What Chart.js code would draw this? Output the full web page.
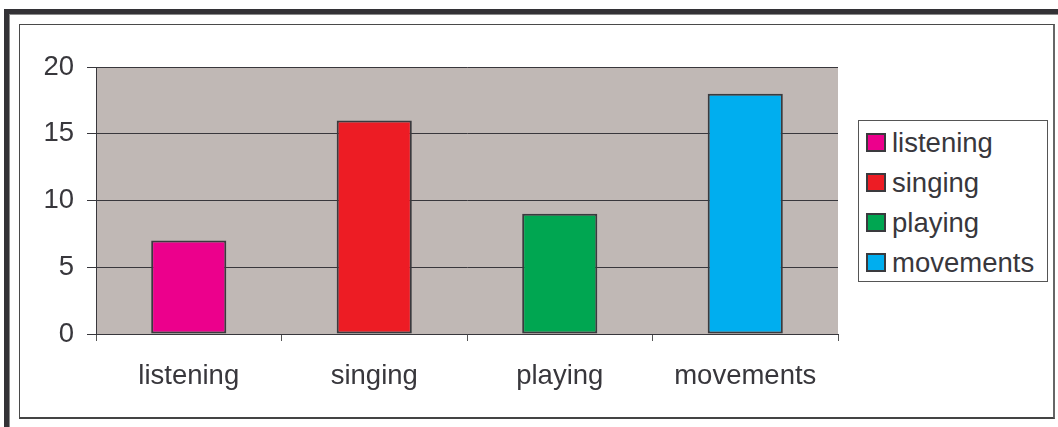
<!DOCTYPE html>
<html>
<head>
<meta charset="utf-8">
<script src="https://cdn.jsdelivr.net/npm/chart.js@4/dist/chart.umd.min.js"></script>
<style>
  html, body { margin: 0; padding: 0; background: #fff; }
  body { width: 1058px; height: 427px; position: relative; overflow: hidden;
         font-family: "Liberation Sans", Arial, sans-serif; }
  /* dark outer frame (top + left only, rest runs off the page) */
  #outer { position: absolute; left: 4px; top: 9px; width: 1070px; height: 440px;
           border-top: 5px solid #333236; border-left: 5px solid #333236;
           box-shadow: inset 1px 1px 0 #8a8a8a; }
  /* thin inner frame */
  #inner { position: absolute; left: 19px; top: 24px; width: 1033px; height: 392px;
           border: 1px solid #4a4a4a; border-right: 2px solid #666; border-bottom: 2px solid #444; }
  #chart { position: absolute; left: 0; top: 0; }
  #legend { position: absolute; left: 858px; top: 120px; width: 190px; height: 162px;
            border: 1px solid #555; background: #fff; box-sizing: border-box;
            padding: 8px 0 0 7px; }
  .item { height: 40px; display: flex; align-items: flex-start; font-size: 27.5px;
          color: #38373c; line-height: 27px; }
  .swatch { width: 20px; height: 19px; border: 2px solid #3a3a3e; margin: 4px 6px 0 0;
            box-sizing: border-box; flex: none; }
</style>
</head>
<body>
<div id="outer"></div>
<div id="inner"></div>
<canvas id="chart" width="1058" height="427"></canvas>
<div id="legend"></div>
<script>
// activities and how many times each was observed
const categories = ['listening', 'singing', 'playing', 'movements'];
const counts = [7, 16, 9, 18];
const barColors = ['#ec008c', '#ed1c24', '#00a651', '#00aeef'];
const yTicks = [0, 5, 10, 15, 20];

const INK = '#38373c';
const PLOT_BG = '#c0b8b5';

// grey plot area behind the bars
const plotBackground = {
    id: 'plotBackground',
    beforeDraw(chart) {
        const { ctx, chartArea: a } = chart;
        ctx.save();
        ctx.fillStyle = PLOT_BG;
        ctx.fillRect(a.left, a.top, a.right - a.left, a.bottom - a.top);
        ctx.restore();
    },
};

new Chart(document.getElementById('chart'), {
    type: 'bar',
    data: {
        labels: categories,
        datasets: [{
            data: counts,
            backgroundColor: barColors,
            borderColor: '#3a3a3e',
            borderWidth: 2,
            borderSkipped: false,
            categoryPercentage: 1,
            barPercentage: 0.405,
        }],
    },
    options: {
        responsive: false,
        animation: false,
        layout: { padding: { top: 67, right: 220, bottom: 0, left: 0 } },
        plugins: { legend: { display: false }, tooltip: { enabled: false } },
        scales: {
            x: {
                offset: true,
                grid: { offset: true, drawOnChartArea: false, drawTicks: true, tickLength: 7, color: '#555' },
                border: { display: true, color: '#38373c', width: 1 },
                ticks: { color: INK, padding: 19, font: { family: 'Liberation Sans', size: 27.5 } },
                afterFit(scale) { scale.height = 93; },
            },
            y: {
                min: 0,
                max: 20,
                afterBuildTicks(scale) { scale.ticks = yTicks.map(v => ({ value: v })); },
                grid: { color: '#38373c', lineWidth: 1, tickLength: 9 },
                border: { display: true, color: '#38373c', width: 1 },
                ticks: { color: INK, padding: 13, font: { family: 'Liberation Sans', size: 27.5 } },
                afterFit(scale) { scale.width = 96; },
            },
        },
    },
    plugins: [plotBackground],
});

// legend box on the right
document.getElementById('legend').innerHTML = categories.map((c, i) =>
    `<div class="item"><span class="swatch" style="background:${barColors[i]}"></span>${c}</div>`
).join('');
</script>
</body>
</html>
